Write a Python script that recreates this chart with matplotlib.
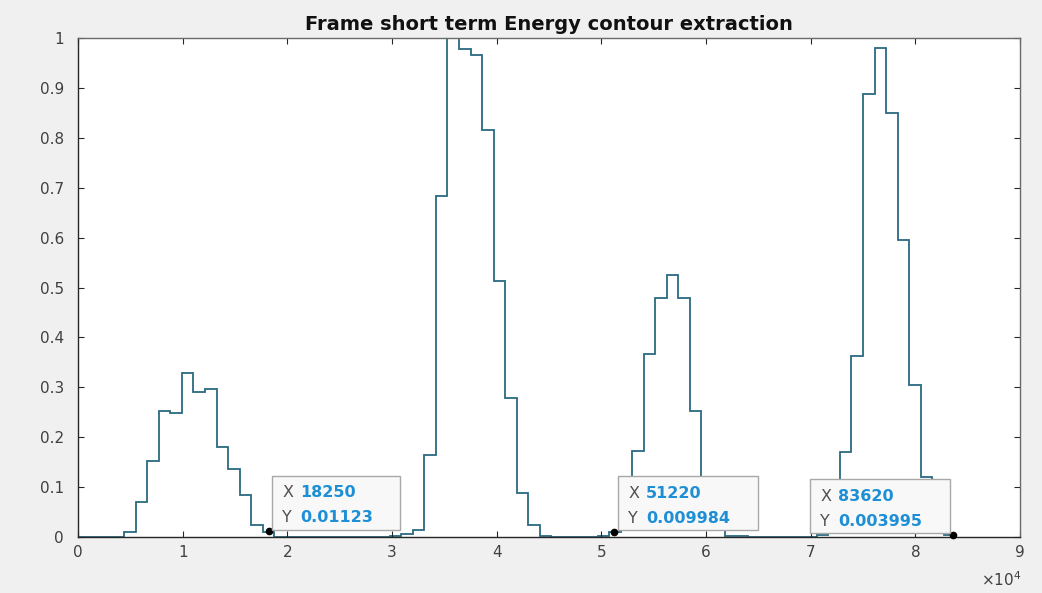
import matplotlib

matplotlib.use("Agg")
import matplotlib.pyplot as plt
from matplotlib.patches import Rectangle
from matplotlib.transforms import IdentityTransform
import numpy as np

# short term energy per frame (normalised), frames of FRAME_HOP samples from 0
FRAME_HOP = 1103
ENERGY = [
    0.0, 0.0, 0.0, 0.0,
    0.010, 0.071, 0.153, 0.253, 0.249, 0.328, 0.290, 0.296, 0.180, 0.137, 0.085, 0.025, 0.011,
    0.0, 0.0, 0.0, 0.0, 0.0, 0.0, 0.0, 0.0, 0.0,
    0.001, 0.002, 0.006, 0.015, 0.164, 0.684, 1.000, 0.978, 0.965, 0.816, 0.513, 0.278, 0.089, 0.024, 0.003,
    0.0, 0.0, 0.0, 0.0,
    0.002, 0.010, 0.060, 0.173, 0.367, 0.478, 0.525, 0.478, 0.253, 0.100, 0.020, 0.003, 0.003,
    0.0, 0.0, 0.0, 0.0, 0.0, 0.0,
    0.005, 0.040, 0.171, 0.363, 0.887, 0.979, 0.850, 0.595, 0.305, 0.120, 0.030, 0.004,
]

# data tips shown on the figure
TIP_X = [18250, 51220, 83620]
TIP_Y = [0.01123, 0.009984, 0.003995]
TIP_XLABEL = ["18250", "51220", "83620"]
TIP_YLABEL = ["0.01123", "0.009984", "0.003995"]

X_TICKS = [0, 10000, 20000, 30000, 40000, 50000, 60000, 70000, 80000, 90000]
X_TICKLABELS = ["0", "1", "2", "3", "4", "5", "6", "7", "8", "9"]
Y_TICKS = [0, 0.1, 0.2, 0.3, 0.4, 0.5, 0.6, 0.7, 0.8, 0.9, 1.0]
Y_TICKLABELS = ["0", "0.1", "0.2", "0.3", "0.4", "0.5", "0.6", "0.7", "0.8", "0.9", "1"]

# box placement of each data tip, in pixels relative to its marker
BOX_DX = [3, 4, -143]
BOX_DY = [1.5, 2, 2]
BOX_W = [128, 140, 140]
BOX_H = 54

W, H = 1042, 593
plt.rcParams["font.family"] = ["DejaVu Sans"]

fig = plt.figure(figsize=(W / 100, H / 100), dpi=100, facecolor="#f0f0f0")
ax = fig.add_axes([78 / W, (H - 537) / H, 942 / W, 499 / H])
ax.set_facecolor("white")

edges = np.arange(len(ENERGY) + 1) * FRAME_HOP
ax.stairs(ENERGY, edges, baseline=None, color="#2b6a80", linewidth=1.3)

ax.set_xlim(0, 90000)
ax.set_ylim(0, 1)
ax.set_xticks(X_TICKS)
ax.set_xticklabels(X_TICKLABELS)
ax.set_yticks(Y_TICKS)
ax.set_yticklabels(Y_TICKLABELS)
ax.tick_params(direction="in", length=4, width=0.8, colors="#262626",
               labelcolor="#404040", labelsize=11, top=True, right=True)
ax.tick_params(axis="y", pad=10)
ax.tick_params(axis="x", pad=6)
for side in ("left", "bottom"):
    ax.spines[side].set_color("#262626")
    ax.spines[side].set_linewidth(1.0)
for side in ("top", "right"):
    ax.spines[side].set_color("#6a6a6a")
    ax.spines[side].set_linewidth(1.0)

ax.set_title("Frame short term Energy contour extraction", fontsize=14,
             fontweight="bold", color="#111111", pad=6)
fig.text(1021 / W, (H - 580) / H, r"$\times10^{4}$", ha="right", va="center",
         fontsize=11, color="#404040")

ax.plot(TIP_X, TIP_Y, "o", color="black", markersize=4.5, clip_on=False, zorder=5)

fig.canvas.draw()
for i in range(len(TIP_X)):
    px, py = ax.transData.transform((TIP_X[i], TIP_Y[i]))
    left = px + BOX_DX[i]
    bottom = py + BOX_DY[i]
    box = Rectangle((left, bottom), BOX_W[i], BOX_H, transform=IdentityTransform(),
                    facecolor="#f8f8f8", edgecolor="#a8a8a8", linewidth=1.0,
                    zorder=6, clip_on=False)
    fig.add_artist(box)
    for row, (name, value) in enumerate([("X", TIP_XLABEL[i]), ("Y", TIP_YLABEL[i])]):
        ty = bottom + BOX_H - 17 - row * 25
        fig.text((left + 10) / W, ty / H, name, ha="left", va="center",
                 fontsize=11.5, color="#505050", zorder=7)
        fig.text((left + 28) / W, ty / H, value, ha="left", va="center",
                 fontsize=11.5, fontweight="bold", color="#1e8fd5", zorder=7)

fig.savefig("out.png", dpi=100, facecolor=fig.get_facecolor())
